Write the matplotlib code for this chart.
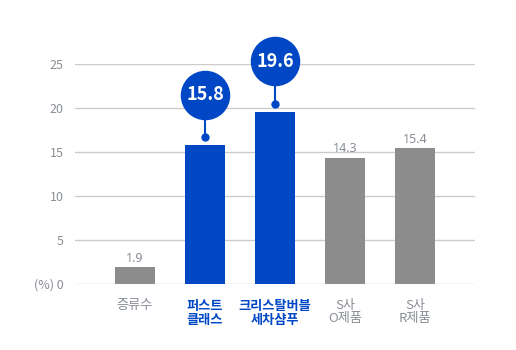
import matplotlib.pyplot as plt

plt.rcParams['font.family'] = ['Noto Sans CJK KR', 'DejaVu Sans']

names = ["증류수", "퍼스트\n클래스", "크리스탈버블\n세차샴푸", "S사\nO제품", "S사\nR제품"]
values = [1.9, 15.8, 19.6, 14.3, 15.4]
highlight = [False, True, True, False, False]
yticks = [0, 5, 10, 15, 20, 25]
ytick_labels = ["(%) 0", "5", "10", "15", "20", "25"]

blue = "#0047c6"
gray = "#8c8c8c"
text_gray = "#8a8e96"

fig = plt.figure(figsize=(5.16, 3.5), dpi=100)
ax = fig.add_axes([75 / 516, 66 / 350, 400 / 516, 220 / 350])

x = range(len(values))
colors = [blue if h else gray for h in highlight]
ax.bar(x, values, width=0.571, color=colors, zorder=3)

ax.set_xlim(-0.857, 4.857)
ax.set_ylim(0, 25)
ax.set_yticks(yticks)
ax.set_yticklabels(ytick_labels)
ax.grid(axis="y", color="#cccccc", linewidth=1, zorder=0)
ax.tick_params(axis="y", length=0, pad=8, labelsize=9, labelcolor=text_gray)
ax.tick_params(axis="x", length=0, pad=11)
ax.set_xticks(list(x))
ax.set_xticklabels(names, fontsize=9.5, linespacing=1.0)
for lbl, h in zip(ax.get_xticklabels(), highlight):
    lbl.set_color(blue if h else text_gray)
    lbl.set_fontweight("bold" if h else "normal")
    lbl.set_va("top")
for s in ax.spines.values():
    s.set_visible(False)

for i, (v, h) in enumerate(zip(values, highlight)):
    if h:
        dot = v + 0.9
        top = v + 5.7
        ax.plot([i, i], [dot, top], color=blue, lw=1.5, zorder=4, clip_on=False)
        ax.plot(i, dot, "o", color=blue, ms=5, zorder=5, clip_on=False)
        ax.scatter(i, top, s=1200, color=blue, zorder=6, clip_on=False)
        ax.text(i, top, f"{v}", color="white", fontsize=13, fontweight="bold",
                ha="center", va="center", zorder=7)
    else:
        ax.annotate(f"{v}", (i, v), xytext=(0, 2), textcoords="offset points",
                    ha="center", va="bottom", fontsize=9, color=text_gray,
                    family="Noto Sans")

fig.savefig("out.png", dpi=100)
